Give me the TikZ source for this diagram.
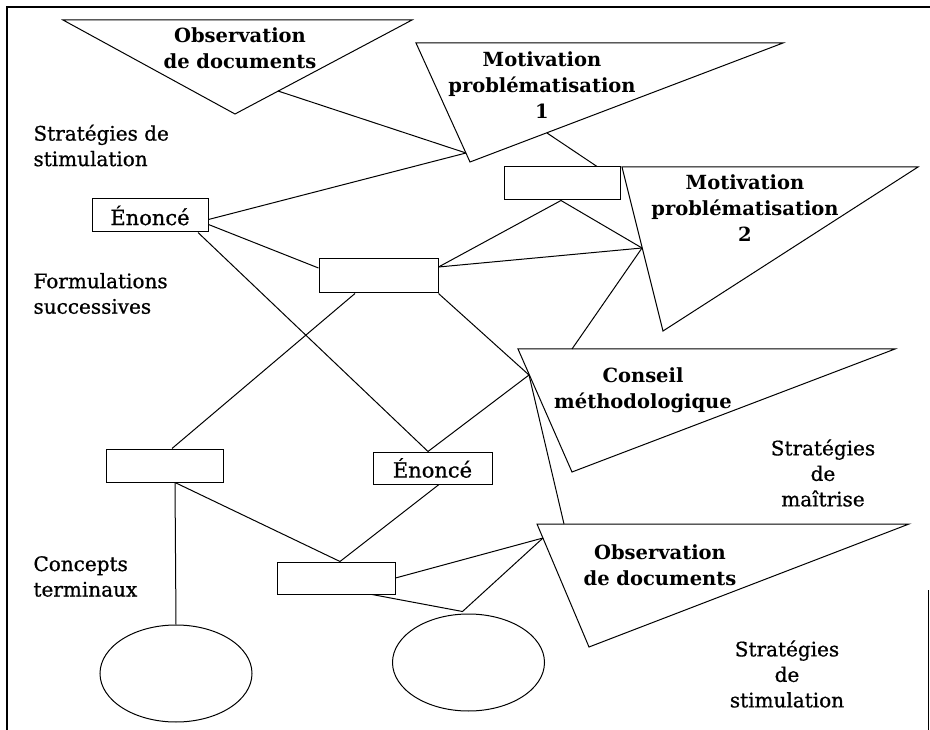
\documentclass[tikz,border=0pt]{standalone}
\usepackage{fontspec}
\setmainfont{DejaVu Serif}
\newfontfamily\lblfont[FakeBold=0.8]{DejaVu Serif}
\usetikzlibrary{shapes.geometric,calc}
\begin{document}
\begin{tikzpicture}[x=1pt,y=-1pt,line width=1pt,
  boxnode/.style={draw,rectangle,inner sep=0pt,font=\lblfont\fontsize{21}{25}\selectfont},
  ellnode/.style={draw,ellipse,minimum width=152pt,minimum height=97pt,inner sep=0pt},
  tritext/.style={align=center,font=\fontsize{19.5}{26}\selectfont\bfseries,inner sep=0pt},
  lbl/.style={font=\lblfont\fontsize{20}{25.5}\selectfont,inner sep=0pt},
  link/.style={line width=1pt}]
\useasboundingbox (0,0) rectangle (930,730);
% frame
\draw[line width=1.2pt] (7,730) -- (7,7) -- (930,7);
\draw[line width=0.8pt] (928,590) -- (928,730);

% triangles
\draw (63,20) -- (412,20) -- (235,114) -- cycle;
\draw (416,43) -- (783,43) -- (470,162) -- cycle;
\draw (622,167) -- (918,167) -- (663,331) -- cycle;
\draw (518,349) -- (895,349) -- (572,472) -- cycle;
\draw (537,524) -- (909,524) -- (589,647) -- cycle;

\node[tritext] (t1) at (240,48) {Observation\\de documents};
\node[tritext] (t2) at (542,85) {Motivation\\problématisation\\1};
\node[tritext] (t3) at (745,208) {Motivation\\problématisation\\2};
\node[tritext] (t4) at (643,390) {Conseil\\méthodologique};
\node[tritext] (t5) at (660,565.5) {Observation\\de documents};

% hub coordinates on triangle edges
\coordinate (p1) at (278,91);
\coordinate (h2) at (466,153);
\coordinate (p2) at (547,133);
\coordinate (h3) at (642,248);
\coordinate (p4) at (572,349);
\coordinate (h4) at (529,375);
\coordinate (p5) at (564,524);
\coordinate (h5) at (543,538);

% boxes
\node[boxnode,minimum width=116pt,minimum height=33pt] (e1) at (150,215.5) {Énoncé};
\node[boxnode,minimum width=116pt,minimum height=33pt] (b2) at (562,183.5) {};
\node[boxnode,minimum width=119pt,minimum height=34pt] (b3) at (378.5,276) {};
\node[boxnode,minimum width=117pt,minimum height=33pt] (b4) at (164.5,465.5) {};
\node[boxnode,minimum width=119pt,minimum height=32pt] (e2) at (432.5,468) {Énoncé};
\node[boxnode,minimum width=118pt,minimum height=32pt] (b5) at (336,578) {};

% ellipses
\node[ellnode] (c1) at (176,673.5) {};
\node[ellnode] (c2) at (468.5,662.5) {};

% labels
\node[lbl,anchor=west,align=left] (l1) at (33,145.5) {Stratégies de\\stimulation};
\node[lbl,anchor=west,align=left] (l2) at (33,293.5) {Formulations\\successives};
\node[lbl,anchor=west,align=left] (l3) at (33,576.5) {Concepts\\terminaux};
\node[lbl,align=center] (l4) at (823,473) {Stratégies\\de\\maîtrise};
\node[lbl,align=center] (l5) at (787,674) {Stratégies\\de\\stimulation};

% connectors
\draw[link] (p1) -- (h2);
\draw[link] ($(e1.east)+(0,4)$) -- (h2);
\draw[link] (p2) -- ($(b2.north)+(35,0)$);
\draw[link] ($(b2.south)+(-1,0)$) -- (h3);
\draw[link] ($(b3.east)+(0,-9)$) -- ($(b2.south)+(-1,0)$);
\draw[link] ($(b3.east)+(0,-9)$) -- (h3);
\draw[link] (h3) -- (p4);
\draw[link] ($(e1.east)+(0,9)$) -- ($(b3.west)+(0,-8)$);
\draw[link] ($(e1.south)+(48,0)$) -- ($(e2.north)+(-4.5,0)$);
\draw[link] ($(b3.south)+(-23.5,0)$) -- ($(b4.north)+(7.5,0)$);
\draw[link] (b3.south east) -- (h4);
\draw[link] ($(e2.north)+(-4.5,0)$) -- (h4);
\draw[link] (h4) -- (p5);
\draw[link] ($(b4.south)+(10.5,0)$) -- (c1.north);
\draw[link] ($(b4.south)+(10.5,0)$) -- ($(b5.north)+(4,0)$);
\draw[link] ($(e2.south)+(6.5,0)$) -- ($(b5.north)+(4,0)$);
\draw[link] (b5.east) -- (h5);
\draw[link] ($(b5.south)+(36,0)$) -- ($(c2.north)+(-6,-2)$) -- (h5);
\end{tikzpicture}
\end{document}
